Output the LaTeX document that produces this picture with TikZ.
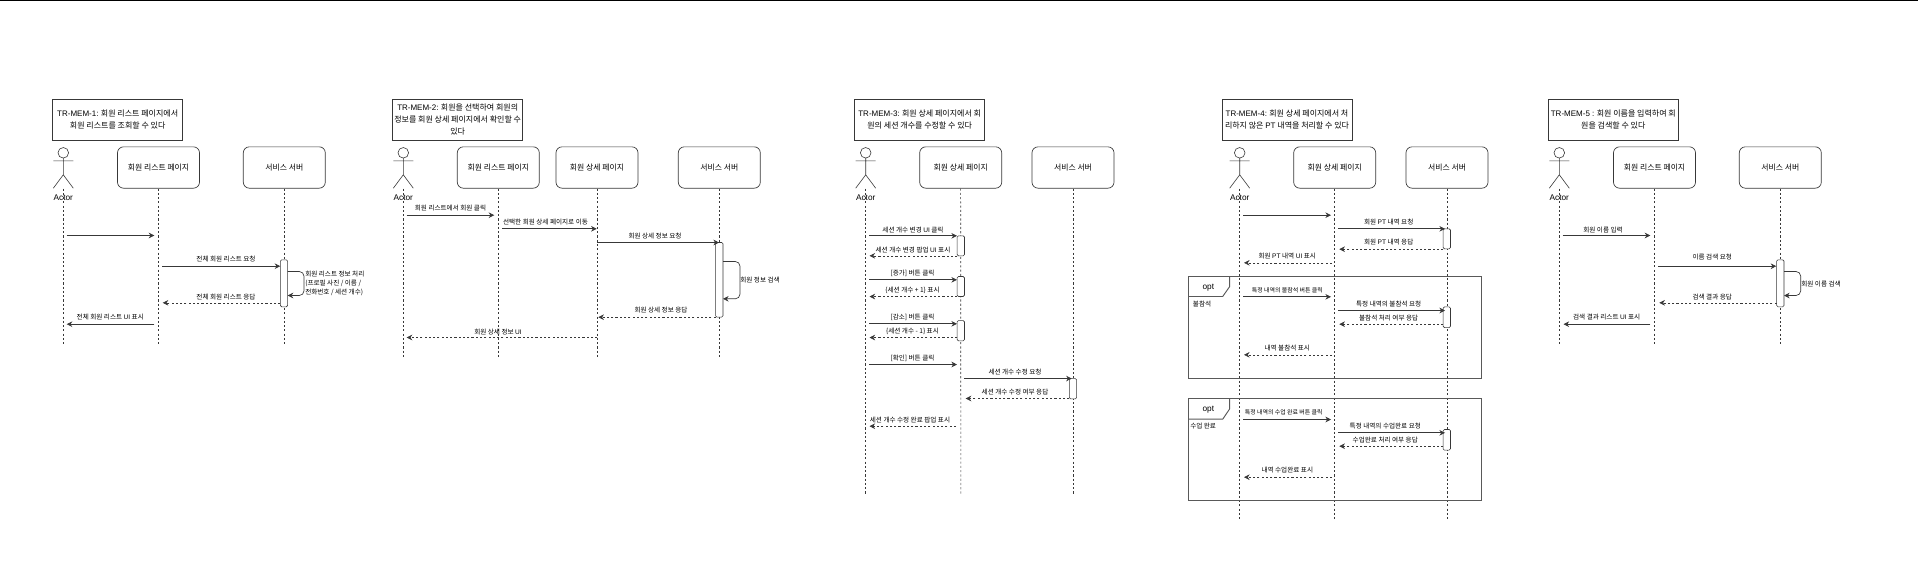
\documentclass[tikz,border=0pt]{standalone}
\usepackage{fontspec}
\setmainfont{Noto Sans CJK KR}
\newfontfamily\lat{Liberation Sans}
\usetikzlibrary{arrows.meta}
\colorlet{linegray}{black!78}
\tikzset{
  titlebox/.style={draw=linegray,line width=.5pt,minimum width=97.5pt,minimum height=30.75pt,inner sep=0pt,align=center,font=\fontsize{6pt}{9pt}\selectfont},
  pagebox/.style={draw=linegray,rounded corners=4.5pt,line width=.5pt,minimum width=61.5pt,minimum height=31pt,inner sep=0pt,font=\fontsize{5.9pt}{8pt}\selectfont},
  actbar/.style={draw=linegray,fill=white,rounded corners=1pt,line width=.45pt,minimum width=5.5pt,minimum height=#1*.75pt,inner sep=0pt},
  lifeline/.style={draw=linegray,line width=.42pt,dash pattern=on 1.6pt off 1.6pt},
  call/.style={draw=linegray,line width=.5pt,-{Stealth[length=4.2pt,width=4.2pt]}},
  reply/.style={call,line width=.45pt,dash pattern=on 1.6pt off 1.6pt},
  lbl/.style={inner sep=0pt,yshift=-.4pt,font=\fontsize{4.95pt}{6.6pt}\selectfont,align=left},
  smalllbl/.style={lbl,font=\fontsize{4.45pt}{6pt}\selectfont},
  optframe/.style={draw=black!65,line width=.7pt},
  actorlbl/.style={inner sep=0pt,font=\lat\fontsize{6.2pt}{8pt}\selectfont},
  actorfig/.pic={
    \draw[linegray,line width=.45pt] (0,0) circle (5.3);
    \draw[linegray,line width=.45pt] (-10,8)--(10,8) (0,5.3)--(0,22) (-10,35.4)--(0,22)--(10,35.4);
  },
}
\begin{document}
\begin{tikzpicture}[x=.75pt,y=-.75pt]
  \useasboundingbox (0,-.5) rectangle (1918,582.5);
  \fill[black] (0,-.5) rectangle (1918,.8);
  % TR-MEM-1
  \node[titlebox] (T1) at (117.7,119.5) {{\lat TR-MEM-1:} 회원 리스트 페이지에서\\회원 리스트를 조회할 수 있다};
  \pic at (63.3,152.3) {actorfig};
  \node[actorlbl] (U1) at (63.3,197.3) {Actor};
  \node[pagebox] (L1) at (158.5,167) {회원 리스트 페이지};
  \node[pagebox] (S1) at (284.3,167) {서비스 서버};
  \coordinate (U1t) at (63.3,188); \coordinate (U1e) at (63.3,343);
  \coordinate (L1e) at (158.5,343); \coordinate (S1e) at (284.3,343);
  \draw[lifeline] (U1t)--(U1e);
  \draw[lifeline] (L1)--(L1e);
  \draw[lifeline] (S1)--(S1e);
  \node[actbar=47] (A1) at (284,282.8) {};
  \coordinate (P1) at (66.7,235); \coordinate (Q1) at (154.3,235); \draw[call] (P1)--(Q1);
  \coordinate (P2) at (162,265.7); \coordinate (Q2) at (280.3,265.7); \draw[call] (P2)--(Q2);
  \node[lbl] (M2) at (226,258) {전체 회원 리스트 요청};
  \coordinate (P3) at (287.7,271); \coordinate (R3) at (304,283); \coordinate (Q3) at (287.7,295);
  \draw[call,rounded corners=3.5pt] (P3)-|(R3)|-(Q3);
  \node[lbl,anchor=west] (M3) at (305,282.5) {회원 리스트 정보 처리\\(프로필 사진 / 이름 /\\전화번호 / 세션 개수)};
  \coordinate (P4) at (280.3,302.3); \coordinate (Q4) at (162.7,302.3); \draw[reply] (P4)--(Q4);
  \node[lbl] (M4) at (226,296) {전체 회원 리스트 응답};
  \coordinate (P5) at (154.3,323.7); \coordinate (Q5) at (66.7,323.7); \draw[call] (P5)--(Q5);
  \node[lbl] (M5) at (110.3,316) {전체 회원 리스트 {\lat UI} 표시};
  % TR-MEM-2
  \node[titlebox] (T2) at (457.7,119.5) {{\lat TR-MEM-2:} 회원을 선택하여 회원의\\정보를 회원 상세 페이지에서 확인할 수\\있다};
  \pic at (403.3,152.3) {actorfig};
  \node[actorlbl] (U2) at (403.3,197.3) {Actor};
  \node[pagebox] (L2) at (498.3,167) {회원 리스트 페이지};
  \node[pagebox] (D2) at (597,167) {회원 상세 페이지};
  \node[pagebox] (S2) at (719.3,167) {서비스 서버};
  \coordinate (U2t) at (403.3,188); \coordinate (U2e) at (403.3,357.7);
  \coordinate (L2e) at (498.3,357.7); \coordinate (D2e) at (597,357.7); \coordinate (S2e) at (719.3,357.7);
  \draw[lifeline] (U2t)--(U2e);
  \draw[lifeline] (L2)--(L2e);
  \draw[lifeline] (D2)--(D2e);
  \draw[lifeline] (S2)--(S2e);
  \node[actbar=74.7] (A2) at (719.3,279.3) {};
  \coordinate (P6) at (406.7,214.7); \coordinate (Q6) at (494.3,214.7); \draw[call] (P6)--(Q6);
  \node[lbl] (M6) at (450.5,207) {회원 리스트에서 회원 클릭};
  \coordinate (P7) at (502,228.3); \coordinate (Q7) at (596.7,228.3); \draw[call] (P7)--(Q7);
  \node[lbl] (M7) at (545.5,221.3) {선택한 회원 상세 페이지로 이동};
  \coordinate (P8) at (597,242); \coordinate (Q8) at (719,242); \draw[call] (P8)--(Q8);
  \node[lbl] (M8) at (655,235) {회원 상세 정보 요청};
  \coordinate (P9) at (723,261); \coordinate (R9) at (740,280); \coordinate (Q9) at (723,298.3);
  \draw[call,rounded corners=3.5pt] (P9)-|(R9)|-(Q9);
  \node[lbl] (M9) at (760,279.3) {회원 정보 검색};
  \coordinate (P10) at (715.7,316.7); \coordinate (Q10) at (598.3,316.7); \draw[reply] (P10)--(Q10);
  \node[lbl] (M10) at (661,309.3) {회원 상세 정보 응답};
  \coordinate (P11) at (597.3,337); \coordinate (Q11) at (406.7,337); \draw[reply] (P11)--(Q11);
  \node[lbl] (M11) at (498,330.7) {회원 상세 정보 {\lat UI}};
  % TR-MEM-3
  \node[titlebox] (T3) at (919.7,119.5) {{\lat TR-MEM-3:} 회원 상세 페이지에서 회\\원의 세션 개수를 수정할 수 있다};
  \pic at (865.7,152.3) {actorfig};
  \node[actorlbl] (U3) at (865.7,197.3) {Actor};
  \node[pagebox] (D3) at (960.7,167) {회원 상세 페이지};
  \node[pagebox] (S3) at (1073,167) {서비스 서버};
  \coordinate (U3t) at (865.7,188); \coordinate (U3e) at (865.7,493);
  \coordinate (D3e) at (960.8,493); \coordinate (S3e) at (1073,493);
  \draw[lifeline] (U3t)--(U3e);
  \draw[lifeline] (D3)--(D3e);
  \draw[lifeline] (S3)--(S3e);
  \node[actbar=20] (A3a) at (960.8,245.3) {};
  \node[actbar=20] (A3b) at (960.8,286) {};
  \node[actbar=20.3] (A3c) at (960.8,330.2) {};
  \node[actbar=20.3] (A3d) at (1073,388.2) {};
  \coordinate (P12) at (869,235.3); \coordinate (Q12) at (957,235.3); \draw[call] (P12)--(Q12);
  \node[lbl] (M12) at (913,229) {세션 개수 변경 {\lat UI} 클릭};
  \coordinate (P13) at (957.3,255.3); \coordinate (Q13) at (869.5,255.3); \draw[reply] (P13)--(Q13);
  \node[lbl] (M13) at (913,248.7) {세션 개수 변경 팝업 {\lat UI} 표시};
  \coordinate (P14) at (869,279.3); \coordinate (Q14) at (957,279.3); \draw[call] (P14)--(Q14);
  \node[lbl] (M14) at (912.5,272.3) {[증가] 버튼 클릭};
  \coordinate (P15) at (957.3,296); \coordinate (Q15) at (869.5,296); \draw[reply] (P15)--(Q15);
  \node[lbl] (M15) at (912.5,289) {\{세션 개수 + 1\} 표시};
  \coordinate (P16) at (869,323.3); \coordinate (Q16) at (957,323.3); \draw[call] (P16)--(Q16);
  \node[lbl] (M16) at (912.5,316.3) {[감소] 버튼 클릭};
  \coordinate (P17) at (957.3,337); \coordinate (Q17) at (869.5,337); \draw[reply] (P17)--(Q17);
  \node[lbl] (M17) at (912.5,330.3) {\{세션 개수 - 1\} 표시};
  \coordinate (P18) at (869,364); \coordinate (Q18) at (957,364); \draw[call] (P18)--(Q18);
  \node[lbl] (M18) at (912.5,357.3) {[확인] 버튼 클릭};
  \coordinate (P19) at (964.3,378); \coordinate (Q19) at (1071.7,378); \draw[call] (P19)--(Q19);
  \node[lbl] (M19) at (1015,371.3) {세션 개수 수정 요청};
  \coordinate (P20) at (1069.3,398); \coordinate (Q20) at (965.7,398); \draw[reply] (P20)--(Q20);
  \node[lbl] (M20) at (1015,391.3) {세션 개수 수정 여부 응답};
  \coordinate (P21) at (956,425.7); \coordinate (Q21) at (869.5,425.7); \draw[reply] (P21)--(Q21);
  \node[lbl] (M21) at (910,418.7) {세션 개수 수정 완료 팝업 표시};
  % TR-MEM-4
  \node[titlebox] (T4) at (1287,119.5) {{\lat TR-MEM-4:} 회원 상세 페이지에서 처\\리하지 않은 {\lat PT} 내역을 처리할 수 있다};
  \pic at (1239.7,152.3) {actorfig};
  \node[actorlbl] (U4) at (1239.7,197.3) {Actor};
  \node[pagebox] (D4) at (1334.7,167) {회원 상세 페이지};
  \node[pagebox] (S4) at (1447,167) {서비스 서버};
  \coordinate (U4t) at (1239.7,188); \coordinate (U4e) at (1239.7,520);
  \coordinate (D4e) at (1334.7,520); \coordinate (S4e) at (1447,520);
  \draw[lifeline] (U4t)--(U4e);
  \draw[lifeline] (D4)--(D4e);
  \draw[lifeline] (S4)--(S4e);
  \node[actbar=20] (A4a) at (1446.8,238.3) {};
  \node[actbar=20.7] (A4b) at (1446.8,316.7) {};
  \node[actbar=20.7] (A4c) at (1446.8,439.3) {};
  \coordinate (P22) at (1243,214.7); \coordinate (Q22) at (1331,214.7); \draw[call] (P22)--(Q22);
  \coordinate (P23) at (1338.3,228.3); \coordinate (Q23) at (1445,228.3); \draw[call] (P23)--(Q23);
  \node[lbl] (M23) at (1388.7,221.3) {회원 {\lat PT} 내역 요청};
  \coordinate (P24) at (1443.3,248.7); \coordinate (Q24) at (1339.3,248.7); \draw[reply] (P24)--(Q24);
  \node[lbl] (M24) at (1388.7,241) {회원 {\lat PT} 내역 응답};
  \coordinate (P25) at (1332,262.3); \coordinate (Q25) at (1244,262.3); \draw[reply] (P25)--(Q25);
  \node[lbl] (M25) at (1287.3,255.3) {회원 {\lat PT} 내역 {\lat UI} 표시};
  % opt 불참석
  \draw[optframe] (1188.7,275.7) rectangle (1481,377.7);
  \draw[optframe] (1188.7,296)--(1222.7,296)--(1229.7,286)--(1229.7,275.7);
  \node[actorlbl] (O1) at (1208.3,286.7) {opt};
  \node[lbl,anchor=west] (O1t) at (1192.7,303.3) {불참석};
  \coordinate (P26) at (1243,296.3); \coordinate (Q26) at (1331,296.3); \draw[call] (P26)--(Q26);
  \node[smalllbl] (M26) at (1287.3,289.3) {특정 내역의 불참석 버튼 클릭};
  \coordinate (P27) at (1338.3,310); \coordinate (Q27) at (1445,310); \draw[call] (P27)--(Q27);
  \node[lbl] (M27) at (1388.7,303.3) {특정 내역의 불참석 요청};
  \coordinate (P28) at (1443.3,323.7); \coordinate (Q28) at (1339.3,323.7); \draw[reply] (P28)--(Q28);
  \node[lbl] (M28) at (1388.7,316.7) {불참석 처리 여부 응답};
  \coordinate (P29) at (1332,354.3); \coordinate (Q29) at (1244,354.3); \draw[reply] (P29)--(Q29);
  \node[lbl] (M29) at (1287.3,347.3) {내역 불참석 표시};
  % opt 수업 완료
  \draw[optframe] (1188.7,398.3) rectangle (1481,500);
  \draw[optframe] (1188.7,418.7)--(1222.7,418.7)--(1229.7,408.3)--(1229.7,398.3);
  \node[actorlbl] (O2) at (1208.3,408.7) {opt};
  \node[lbl,anchor=west] (O2t) at (1190,425.3) {수업 완료};
  \coordinate (P30) at (1243,419); \coordinate (Q30) at (1331,419); \draw[call] (P30)--(Q30);
  \node[smalllbl] (M30) at (1283.7,411.3) {특정 내역의 수업 완료 버튼 클릭};
  \coordinate (P31) at (1338.3,432.3); \coordinate (Q31) at (1445,432.3); \draw[call] (P31)--(Q31);
  \node[lbl] (M31) at (1385.3,425.3) {특정 내역의 수업완료 요청};
  \coordinate (P32) at (1443.3,445.7); \coordinate (Q32) at (1339.3,445.7); \draw[reply] (P32)--(Q32);
  \node[lbl] (M32) at (1385.3,439) {수업완료 처리 여부 응답};
  \coordinate (P33) at (1332,476.7); \coordinate (Q33) at (1244,476.7); \draw[reply] (P33)--(Q33);
  \node[lbl] (M33) at (1287.3,469.3) {내역 수업완료 표시};
  % TR-MEM-5
  \node[titlebox] (T5) at (1613.3,119.5) {{\lat TR-MEM-5 :} 회원 이름을 입력하여 회\\원을 검색할 수 있다};
  \pic at (1559.3,152.3) {actorfig};
  \node[actorlbl] (U5) at (1559.3,197.3) {Actor};
  \node[pagebox] (L5) at (1654.5,167) {회원 리스트 페이지};
  \node[pagebox] (S5) at (1780.3,167) {서비스 서버};
  \coordinate (U5t) at (1559.3,188); \coordinate (U5e) at (1559.3,343);
  \coordinate (L5e) at (1654.5,343); \coordinate (S5e) at (1780.3,343);
  \draw[lifeline] (U5t)--(U5e);
  \draw[lifeline] (L5)--(L5e);
  \draw[lifeline] (S5)--(S5e);
  \node[actbar=47] (A5) at (1780.3,282.8) {};
  \coordinate (P34) at (1562.7,235); \coordinate (Q34) at (1650.3,235); \draw[call] (P34)--(Q34);
  \node[lbl] (M34) at (1603,229) {회원 이름 입력};
  \coordinate (P35) at (1658,265.7); \coordinate (Q35) at (1776.3,265.7); \draw[call] (P35)--(Q35);
  \node[lbl] (M35) at (1712.3,255.7) {이름 검색 요청};
  \coordinate (P36) at (1784,271); \coordinate (R36) at (1800.7,283); \coordinate (Q36) at (1784,295);
  \draw[call,rounded corners=3.5pt] (P36)-|(R36)|-(Q36);
  \node[lbl] (M36) at (1821,282.7) {회원 이름 검색};
  \coordinate (P37) at (1776.7,302.3); \coordinate (Q37) at (1659.3,302.3); \draw[reply] (P37)--(Q37);
  \node[lbl] (M37) at (1712.3,296) {검색 결과 응답};
  \coordinate (P38) at (1650.3,323.7); \coordinate (Q38) at (1563.5,323.7); \draw[call] (P38)--(Q38);
  \node[lbl] (M38) at (1606.7,316) {검색 결과 리스트 {\lat UI} 표시};
\end{tikzpicture}
\end{document}
